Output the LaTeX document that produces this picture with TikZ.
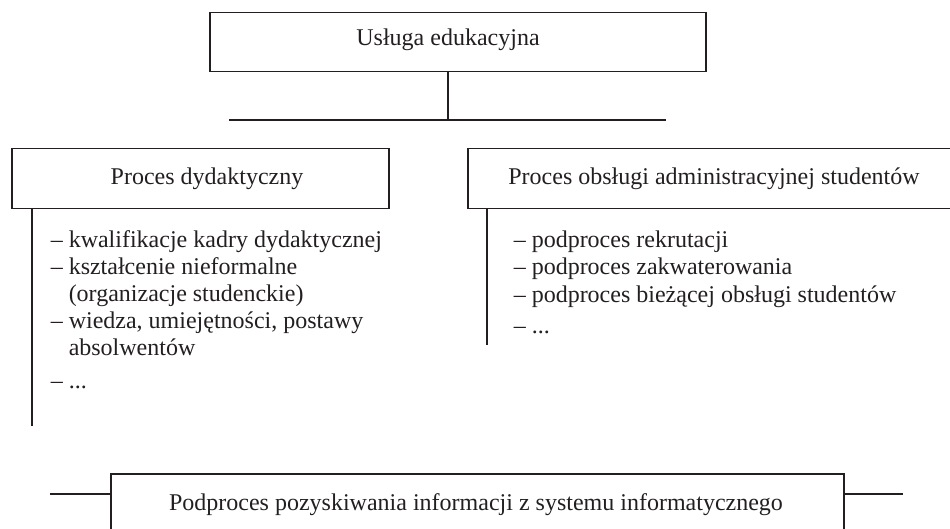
\documentclass[tikz,border=0pt]{standalone}
\usepackage{fontspec}
\setmainfont{Liberation Serif}
\definecolor{ink}{HTML}{231F20}
\begin{document}
\begin{tikzpicture}[x=1pt,y=-1pt, line width=1.5pt,
  box/.style={draw=ink, rectangle, inner sep=0pt, anchor=north west},
  lbl/.style={anchor=base, inner sep=0pt, text=ink, font=\fontsize{24}{28}\selectfont},
  item/.style={anchor=base west, inner sep=0pt, text=ink, font=\fontsize{24}{28}\selectfont},
  conn/.style={draw=ink}]
\useasboundingbox (0,0) rectangle (950,529);
\clip (0,0) rectangle (950,529);

% boxes
\node[box, minimum width=496pt, minimum height=59pt] (top) at (209,12) {};
\node[box, minimum width=377pt, minimum height=60pt] (lbox) at (11,148) {};
\node[box, minimum width=520pt, minimum height=60pt] (rbox) at (467,148) {};
\node[box, minimum width=733pt, minimum height=100pt] (bbox) at (110,473) {};

% box labels
\node[lbl] (toptxt) at (448,46) {Usługa edukacyjna};
\node[lbl] (ltxt) at (207,185) {Proces dydaktyczny};
\node[lbl] (rtxt) at (714,185) {Proces obsługi administracyjnej studentów};
\node[lbl] (btxt) at (476,510) {Podproces pozyskiwania informacji z systemu informatycznego};

% connectors
\coordinate (j) at (448,120);
\coordinate (hl) at (229,120);
\coordinate (hr) at (666,120);
\draw[conn] (top.south -| j) -- (j);
\draw[conn] (hl) -- (hr);

\coordinate (lend) at (32,426);
\draw[conn] (lbox.south -| lend) -- (lend);
\coordinate (rend) at (487,345);
\draw[conn] (rbox.south -| rend) -- (rend);

\coordinate (bl) at (50,494);
\coordinate (br) at (903,494);
\draw[conn] (bl) -- (bbox.west |- bl);
\draw[conn] (bbox.east |- br) -- (br);

% left list
\node[item] (l1) at (50,248) {– kwalifikacje kadry dydaktycznej};
\node[item] (l2) at (50,274.8) {– kształcenie nieformalne};
\node[item] (l3) at (50,301.6) {\hphantom{– }(organizacje studenckie)};
\node[item] (l4) at (50,328.4) {– wiedza, umiejętności, postawy};
\node[item] (l5) at (50,355.2) {\hphantom{– }absolwentów};
\node[item] (l6) at (50,388) {– ...};

% right list
\node[item] (r1) at (513,248) {– podproces rekrutacji};
\node[item] (r2) at (513,275) {– podproces zakwaterowania};
\node[item] (r3) at (513,302) {– podproces bieżącej obsługi studentów};
\node[item] (r4) at (513,333) {– ...};
\end{tikzpicture}
\end{document}
